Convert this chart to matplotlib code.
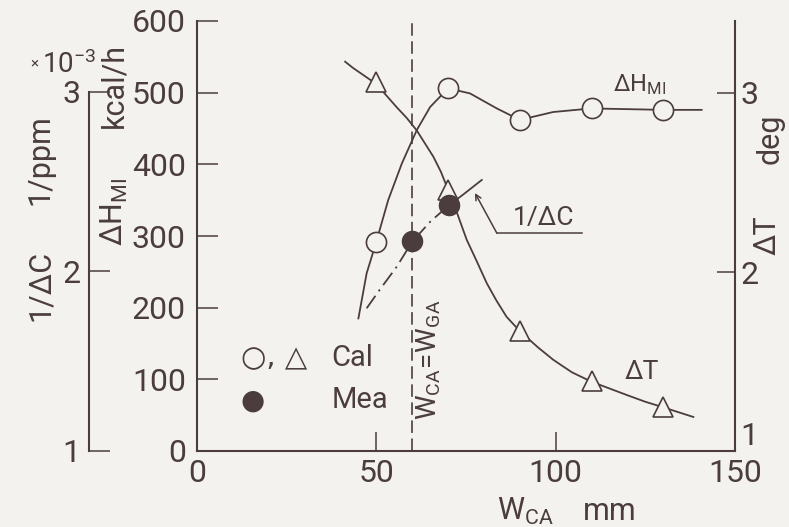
import numpy as np
import matplotlib
matplotlib.use('Agg')
from matplotlib import pyplot as plt

INK = '#4b3d3e'
BG = '#f4f2ef'

plt.rcParams['font.family'] = ['Roboto', 'DejaVu Sans']
plt.rcParams['font.weight'] = 'normal'
plt.rcParams['lines.scale_dashes'] = False
plt.rcParams['text.color'] = INK

# dH_MI (kcal/h), calculated points and the drawn curve
hmi_x = [50, 70, 90, 110, 130]
hmi_y = [292, 506, 462, 478, 476]
hmi_curve_x = [45.0, 47.3, 50, 53.3, 57.1, 61.3, 65.0, 70, 76.1, 83.6, 90, 99.3, 110, 120, 130, 140.7]
hmi_curve_y = [185, 248, 292, 350, 401, 448, 480, 506, 499, 478, 462, 473, 478, 477, 476, 476]

# dT (deg), calculated points and curve
dt_x = [50, 70, 90, 110, 130]
dt_y = [3.06, 2.46, 1.67, 1.39, 1.245]
dt_curve_x = [41.3, 43.5, 46.4, 50, 55.7, 58.5, 61.3, 65.9, 68, 70, 72.5, 75.2, 78, 80.8,
              83.5, 86.3, 90, 95, 99.3, 104.5, 110, 119.8, 125, 130, 134.5, 138.4]
dt_curve_y = [3.175, 3.14, 3.10, 3.05, 2.92, 2.86, 2.79, 2.644, 2.56, 2.46, 2.33, 2.18, 2.06, 1.937,
              1.84, 1.75, 1.67, 1.58, 1.51, 1.44, 1.387, 1.313, 1.275, 1.244, 1.215, 1.19]

# 1/dC (x10^-3 1/ppm), measured points and curve
dc_x = [60, 70.3]
dc_y = [2.17, 2.37]
dc_curve_x = [47.3, 51, 55.7, 60, 65, 70.3]
dc_curve_y = [1.795, 1.90, 2.027, 2.166, 2.277, 2.37]
dc_ext_x = [70.3, 74.3, 79.4]
dc_ext_y = [2.37, 2.43, 2.51]

W, H = 789, 527


def px(x, y):
    return x / W, 1 - y / H


fig = plt.figure(figsize=(W / 100, H / 100), dpi=100, facecolor=BG)
ax = fig.add_axes([197 / W, 76 / H, 538 / W, 430 / H])
ax.set_facecolor(BG)
ax2 = ax.twinx()
ax3 = ax.twinx()

ax.set_xlim(0, 150)
ax.set_ylim(0, 600)
ax2.set_ylim(1, 1 + 430 / 179)
ax3.set_ylim(1, 1 + 430 / 179.5)

for a in (ax, ax2, ax3):
    for s in a.spines.values():
        s.set_visible(False)
        s.set_color(INK)
        s.set_linewidth(1.5)
ax.spines['left'].set_visible(True)
ax.spines['bottom'].set_visible(True)
ax2.spines['right'].set_visible(True)
ax3.spines['left'].set_visible(True)
ax3.spines['left'].set_position(('axes', -108 / 538))
ax3.spines['left'].set_bounds(1, 3)
ax3.yaxis.set_ticks_position('left')

ax.set_xticks([0, 50, 100, 150])
ax.set_yticks([0, 100, 200, 300, 400, 500, 600])
ax2.set_yticks([1, 2, 3])
ax3.set_yticks([1, 2, 3])

tick_kw = dict(direction='in', color=INK, width=1.1, labelsize=23, labelcolor=INK)
ax.tick_params(axis='x', length=14, pad=6, **tick_kw)
ax.tick_params(axis='y', length=15, pad=8, **tick_kw)
ax2.tick_params(axis='y', length=13, pad=4, **tick_kw)
ax3.tick_params(axis='y', length=15, pad=6, **tick_kw)
# the "1" of the dT scale sits above the corner
ax2.yaxis.get_major_ticks()[0].label2.set_verticalalignment('bottom')

# W_CA = W_GA line
ax.axvline(60, color=INK, lw=1.2, ls=(0, (9, 4)), zorder=1)

ax.plot(hmi_curve_x, hmi_curve_y, color=INK, lw=1.3, zorder=2)
ax.plot(hmi_x, hmi_y, 'o', ms=14.5, mfc=BG, mec=INK, mew=1.2, zorder=3)

ax2.plot(dt_curve_x, dt_curve_y, color=INK, lw=1.3, zorder=2)
ax2.plot(dt_x, dt_y, '^', ms=14.5, mfc=BG, mec=INK, mew=1.2, zorder=3)

ax3.plot(dc_curve_x, dc_curve_y, color=INK, lw=1.3, ls=(0, (11, 4, 1.5, 4)), zorder=2)
ax3.plot(dc_ext_x, dc_ext_y, color=INK, lw=1.3, zorder=2)
ax3.plot(dc_x, dc_y, 'o', ms=14.5, mfc=INK, mec=INK, zorder=4)

# curve labels
ax.text(123.5, 512, r'$\mathregular{ΔH_{MI}}$', fontsize=17, ha='center', va='center')
ax2.text(124, 1.44, 'ΔT', fontsize=19, ha='center', va='center')
ax.annotate('', xy=(77.5, 360), xytext=(83.6, 304),
            arrowprops=dict(arrowstyle='->', color=INK, lw=1.1, shrinkA=0, shrinkB=0))
ax.plot([83.6, 107.3], [304, 304], color=INK, lw=1.1)
ax.text(96.5, 309, '1/ΔC', fontsize=19, ha='center', va='bottom')
ax.text(64.5, 127, r'$\mathregular{W_{CA}\!=\!W_{GA}}$', fontsize=20, rotation=90,
        ha='center', va='center')

# legend written as text
sym = ['DejaVu Sans']
ax.text(21.6, 130, '○, △', fontsize=21, ha='center', va='center', family=sym)
ax.text(37.5, 130, 'Cal', fontsize=21, ha='left', va='center')
ax.text(15.5, 71, '●', fontsize=20, ha='center', va='center', family=sym)
ax.text(37.5, 71, 'Mea', fontsize=21, ha='left', va='center')

# axis titles
fig.text(*px(497, 520), r'$\mathregular{W_{CA}}$', fontsize=22, ha='left', va='baseline')
fig.text(*px(610, 520), 'mm', fontsize=22, ha='center', va='baseline')
fig.text(*px(40, 160), '1/ppm', fontsize=22, rotation=90, ha='center', va='center')
fig.text(*px(40, 285), '1/ΔC', fontsize=22, rotation=90, ha='center', va='center')
fig.text(*px(34, 64), '×', fontsize=11, ha='center', va='center')
fig.text(*px(42, 73), r'$\mathregular{10^{-3}}$', fontsize=20, ha='left', va='baseline')
fig.text(*px(114, 86), 'kcal/h', fontsize=22, rotation=90, ha='center', va='center')
fig.text(*px(114, 212), r'$\mathregular{ΔH_{MI}}$', fontsize=22, rotation=90, ha='center', va='center')
fig.text(*px(770, 139), 'deg', fontsize=22, rotation=90, ha='center', va='center')
fig.text(*px(767, 235), 'ΔT', fontsize=22, rotation=90, ha='center', va='center')

fig.savefig('out.png', dpi=100, facecolor=BG)
